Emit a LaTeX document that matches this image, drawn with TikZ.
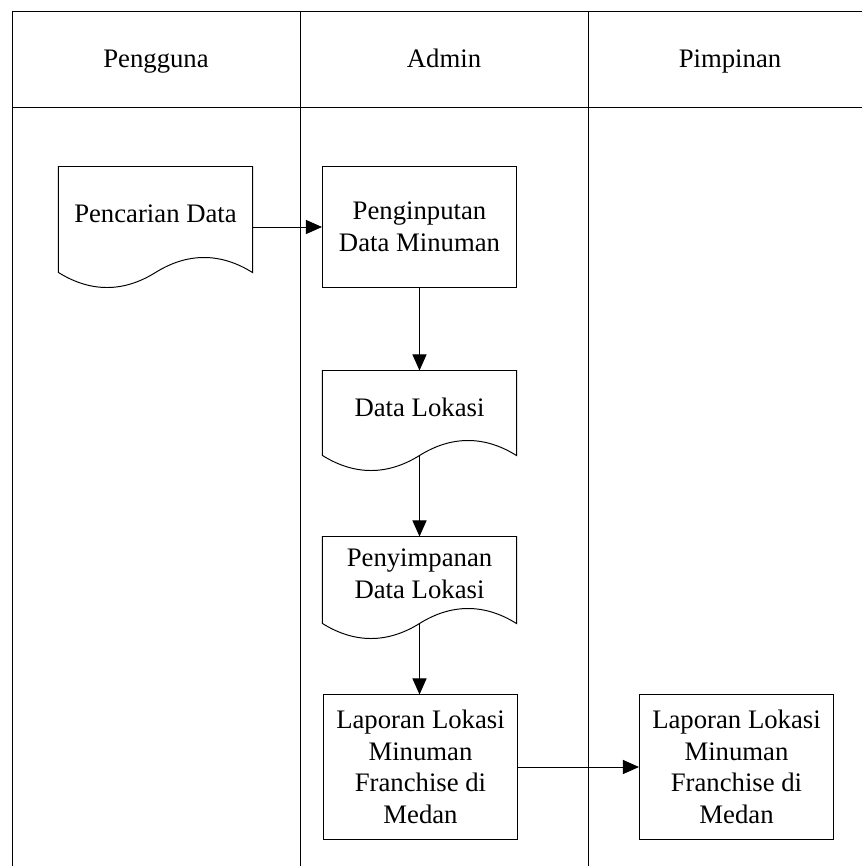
\documentclass[tikz,border=0pt]{standalone}
\usepackage{fontspec}
\setmainfont{Liberation Serif}
\usetikzlibrary{arrows.meta}

\tikzset{
    kotak/.style={draw, rectangle, inner sep=0pt, align=center, minimum width=4.85cm},
    dokumen/.style={rectangle, inner sep=0pt, align=center, minimum width=4.825cm},
}
% outline of a document node, wave below its south edge
\newcommand{\dokumenbentuk}[1]{%
    \draw (#1.north west) -- (#1.north east) -- ([yshift=-0.3cm]#1.south east)
        .. controls +(-0.8cm,0.5cm) and +(0.8cm,0.5cm) .. ([yshift=-0.3cm]#1.south) coordinate (#1-w)
        .. controls +(-0.8cm,-0.5cm) and +(0.8cm,-0.5cm) .. ([yshift=-0.3cm]#1.south west) -- cycle;}

\begin{document}
\begin{tikzpicture}[x=0.025cm, y=-0.025cm, line width=0.7pt, >={Triangle[length=0.4cm,width=0.35cm]},
    every node/.style={font=\fontsize{19}{22.5}\selectfont}]
    \useasboundingbox (0,0) rectangle (862,866);
    % lanes
    \draw (12,866) -- (12,11) -- (862,11);
    \draw (12,107) -- (862,107);
    \draw (300,11) -- (300,866);
    \draw (588,11) -- (588,866);
    \node [anchor=base] (pengguna) at (156,68) {Pengguna};
    \node [anchor=base] (admin)    at (444,68) {Admin};
    \node [anchor=base] (pimpinan) at (730,68) {Pimpinan};
    % nodes
    \node [dokumen, minimum height=2.325cm] (pencarian)   at (155.5,213.5) {Pencarian Data};
    \node [kotak, minimum height=3cm]       (penginputan) at (419.5,227) {Penginputan\\Data Minuman};
    \node [dokumen, minimum height=1.8cm]   (datalokasi)  at (419.5,407) {Data Lokasi};
    \node [dokumen, minimum height=1.85cm]  (penyimpanan) at (419.5,574) {Penyimpanan\\Data Lokasi};
    \node [kotak, minimum height=3.6cm]     (laporan)     at (420.5,767) {Laporan Lokasi\\Minuman\\Franchise di\\Medan};
    \node [kotak, minimum height=3.6cm]     (laporanp)    at (736.5,767) {Laporan Lokasi\\Minuman\\Franchise di\\Medan};
    \dokumenbentuk{pencarian}
    \dokumenbentuk{datalokasi}
    \dokumenbentuk{penyimpanan}
    % arrows
    \draw [->] (pencarian.east |- penginputan.west) -- (penginputan.west);
    \draw [->] (penginputan.south) -- (datalokasi.north);
    \draw [->] (datalokasi-w) -- (penyimpanan.north);
    \draw [->] (penyimpanan-w) -- (penyimpanan-w |- laporan.north);
    \draw [->] (laporan.east) -- (laporanp.west);
\end{tikzpicture}
\end{document}
